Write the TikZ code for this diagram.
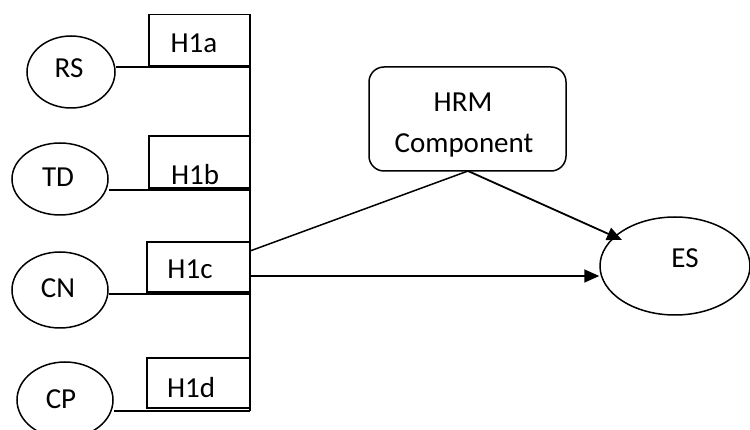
\documentclass[tikz,border=0pt]{standalone}
\usepackage{fontspec}
\setmainfont{Carlito}
\usetikzlibrary{arrows.meta,shapes.geometric}
\begin{document}
\begin{tikzpicture}[x=1pt,y=-1pt,
  lw/.style={line width=1.8pt},
  oval/.style={ellipse,draw,line width=1.5pt,inner sep=0pt},
  hbox/.style={draw,lw,inner sep=0pt},
  txt/.style={anchor=base,inner sep=0pt,font=\fontsize{29}{35}\selectfont},
  conn/.style={lw},
  arr/.style={lw,-{Triangle[length=15pt,width=13pt]}}]
\useasboundingbox (0,0) rectangle (750,430);
% ellipses
\node[oval,minimum width=88pt,minimum height=72pt] (RS) at (71,72) {};
\node[oval,minimum width=96pt,minimum height=72pt] (TD) at (60,179) {};
\node[oval,minimum width=96pt,minimum height=76pt] (CN) at (60,290) {};
\node[oval,minimum width=96pt,minimum height=76pt] (CP) at (65,400) {};
\node[oval,minimum width=150pt,minimum height=98pt] (ES) at (675,266) {};
\node[txt] (RSt) at (69,78) {RS};
\node[txt] (TDt) at (58,187) {TD};
\node[txt] (CNt) at (58,298) {CN};
\node[txt] (CPt) at (61,408) {CP};
\node[txt] (ESt) at (685,268) {ES};
% boxes
\node[hbox,minimum width=101pt,minimum height=51pt] (H1a) at (199.5,40) {};
\node[hbox,minimum width=101pt,minimum height=52pt] (H1b) at (199.5,162) {};
\node[hbox,minimum width=103pt,minimum height=50pt] (H1c) at (198.5,267) {};
\node[hbox,minimum width=103pt,minimum height=50pt] (H1d) at (198.5,383) {};
\node[txt] (H1at) at (194,53) {H1a};
\node[txt] (H1bt) at (195,185) {H1b};
\node[txt] (H1ct) at (190,279) {H1c};
\node[txt] (H1dt) at (191,397) {H1d};
\node[draw,line width=1.5pt,rounded corners=15pt,minimum width=197pt,minimum height=104pt] (HRM) at (467.5,119) {};
\node[txt] (HRMt1) at (463,112) {HRM};
\node[txt] (HRMt2) at (464,153) {Component};
% spine
\coordinate (top) at (250,14);
\coordinate (bot) at (250,411);
\draw[conn] (top) -- (bot);
\coordinate (a) at (250,67);
\coordinate (b) at (250,190);
\coordinate (c) at (250,294);
\coordinate (d) at (250,411);
\draw[conn] (RS.east |- a) -- (a);
\draw[conn] (TD.east |- b) -- (b);
\draw[conn] (CN.east |- c) -- (c);
\draw[conn] (CP.east |- d) -- (d);
% right part
\coordinate (hb) at (468,171);
\coordinate (c1) at (250,251);
\coordinate (c2) at (250,276);
\draw[conn,line width=1.5pt] (c1) -- (hb);
\draw[arr] (hb) -- (622,240);
\draw[arr] (c2) -- (ES.west |- c2);
\end{tikzpicture}
\end{document}
